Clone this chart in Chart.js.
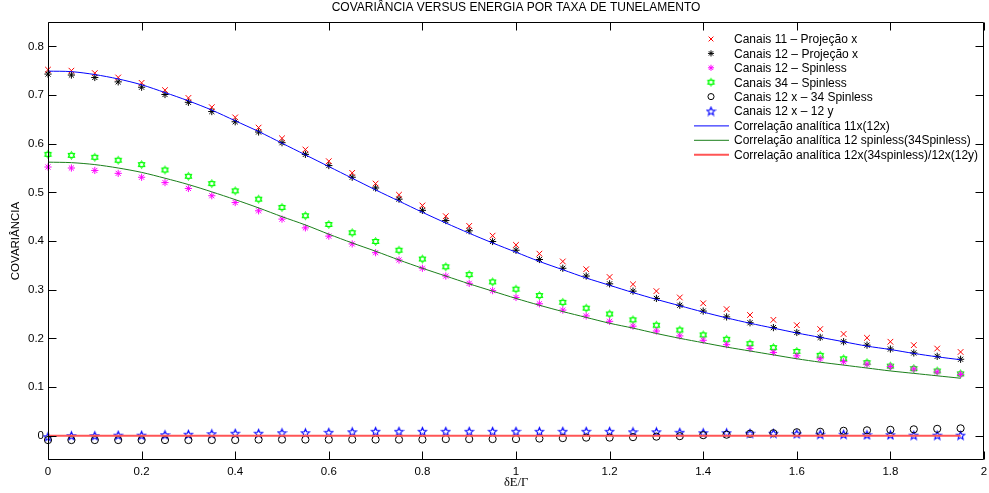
<!DOCTYPE html>
<html>
<head>
<meta charset="utf-8">
<script src="https://cdn.jsdelivr.net/npm/chart.js@4/dist/chart.umd.min.js"></script>
<style>
html, body { margin: 0; padding: 0; background: #fff; }
</style>
</head>
<body>
<canvas id="myChart" width="989" height="493"></canvas>
<script>
const energia = [0, 0.05, 0.1, 0.15, 0.2, 0.25, 0.3, 0.35, 0.4, 0.45,
    0.5, 0.55, 0.6, 0.65, 0.7, 0.75, 0.8, 0.85, 0.9, 0.95,
    1, 1.05, 1.1, 1.15, 1.2, 1.25, 1.3, 1.35, 1.4, 1.45,
    1.5, 1.55, 1.6, 1.65, 1.7, 1.75, 1.8, 1.85, 1.9, 1.95];

const canais11ProjX = [0.752, 0.750, 0.745, 0.736, 0.725, 0.710, 0.694, 0.675, 0.654, 0.633,
    0.611, 0.588, 0.564, 0.540, 0.518, 0.495, 0.473, 0.451, 0.431, 0.411,
    0.392, 0.374, 0.358, 0.342, 0.326, 0.311, 0.297, 0.284, 0.272, 0.260,
    0.248, 0.238, 0.227, 0.219, 0.209, 0.201, 0.193, 0.186, 0.179, 0.172];
const canais12ProjX = [0.743, 0.741, 0.736, 0.727, 0.716, 0.701, 0.685, 0.666, 0.645, 0.624,
    0.602, 0.578, 0.555, 0.531, 0.509, 0.486, 0.463, 0.442, 0.421, 0.399,
    0.381, 0.362, 0.344, 0.328, 0.312, 0.297, 0.282, 0.268, 0.256, 0.244,
    0.232, 0.222, 0.212, 0.202, 0.193, 0.186, 0.178, 0.170, 0.163, 0.157];
const canais12Spinless = [0.552, 0.550, 0.545, 0.539, 0.531, 0.520, 0.508, 0.493, 0.479, 0.462,
    0.445, 0.427, 0.410, 0.394, 0.376, 0.361, 0.344, 0.328, 0.313, 0.298,
    0.284, 0.271, 0.258, 0.246, 0.235, 0.225, 0.215, 0.205, 0.196, 0.187,
    0.179, 0.171, 0.164, 0.158, 0.152, 0.147, 0.142, 0.137, 0.131, 0.126];
const canais34Spinless = [0.578, 0.576, 0.572, 0.566, 0.557, 0.546, 0.533, 0.518, 0.503, 0.486,
    0.469, 0.452, 0.434, 0.417, 0.399, 0.381, 0.363, 0.347, 0.331, 0.316,
    0.301, 0.288, 0.274, 0.262, 0.250, 0.238, 0.227, 0.217, 0.207, 0.198,
    0.189, 0.181, 0.173, 0.165, 0.158, 0.150, 0.143, 0.138, 0.133, 0.127];
const canais12x34Spinless = [-0.009, -0.009, -0.009, -0.009, -0.009, -0.009, -0.009, -0.009, -0.009, -0.008,
    -0.008, -0.008, -0.008, -0.008, -0.008, -0.008, -0.008, -0.007, -0.007, -0.007,
    -0.007, -0.006, -0.005, -0.004, -0.004, -0.003, -0.002, -0.001, 0.001, 0.002,
    0.004, 0.005, 0.007, 0.008, 0.010, 0.011, 0.012, 0.013, 0.014, 0.015];
const canais12x12y = [-0.002, 0.000, 0.000, 0.001, 0.001, 0.002, 0.003, 0.004, 0.005, 0.005,
    0.006, 0.006, 0.007, 0.008, 0.009, 0.009, 0.009, 0.009, 0.009, 0.009,
    0.009, 0.009, 0.009, 0.009, 0.009, 0.008, 0.008, 0.007, 0.006, 0.006,
    0.005, 0.005, 0.004, 0.003, 0.003, 0.002, 0.002, 0.001, 0.001, 0.001];

// curvas analiticas
const analitica11x = [0.749, 0.748, 0.742, 0.733, 0.721, 0.705, 0.688, 0.669, 0.647, 0.625,
    0.601, 0.577, 0.553, 0.529, 0.505, 0.482, 0.459, 0.437, 0.416, 0.396,
    0.377, 0.358, 0.341, 0.324, 0.309, 0.294, 0.280, 0.267, 0.254, 0.242,
    0.231, 0.221, 0.211, 0.202, 0.193, 0.184, 0.177, 0.169, 0.162, 0.156];
const analitica12Spinless = [0.562, 0.561, 0.557, 0.550, 0.541, 0.529, 0.516, 0.501, 0.485, 0.468,
    0.450, 0.433, 0.414, 0.396, 0.379, 0.361, 0.344, 0.328, 0.312, 0.297,
    0.282, 0.268, 0.255, 0.243, 0.231, 0.221, 0.210, 0.200, 0.191, 0.182,
    0.174, 0.166, 0.158, 0.151, 0.145, 0.139, 0.133, 0.128, 0.123, 0.118];
const analiticaZeroX = [0, 1.95];
const analiticaZero = [0, 0];

const xTicks = [0, 0.2, 0.4, 0.6, 0.8, 1, 1.2, 1.4, 1.6, 1.8, 2];
const yTicks = [0, 0.1, 0.2, 0.3, 0.4, 0.5, 0.6, 0.7, 0.8];

const fontSans = '"Liberation Sans", Arial, sans-serif';

function pts(xs, ys) {
    return xs.map((x, i) => ({ x: x, y: ys[i] }));
}

// marcadores especiais (hexagrama e pentagrama)
function makeHexagram(color) {
    const c = document.createElement('canvas');
    c.width = 11; c.height = 11;
    const g = c.getContext('2d');
    g.strokeStyle = color;
    g.lineWidth = 1;
    const r = 4;
    for (let t = 0; t < 2; t++) {
        g.beginPath();
        for (let k = 0; k < 3; k++) {
            const a = -Math.PI / 2 + t * Math.PI + k * 2 * Math.PI / 3;
            const px = 5.5 + r * Math.cos(a), py = 5.5 + r * Math.sin(a);
            if (k == 0) g.moveTo(px, py); else g.lineTo(px, py);
        }
        g.closePath();
        g.stroke();
    }
    return c;
}

function makePentagram(color) {
    const c = document.createElement('canvas');
    c.width = 11; c.height = 11;
    const g = c.getContext('2d');
    g.strokeStyle = color;
    g.lineWidth = 1.1;
    const ro = 4.3, ri = 1.9;
    g.beginPath();
    for (let k = 0; k < 10; k++) {
        const r = k % 2 == 0 ? ro : ri;
        const a = -Math.PI / 2 + k * Math.PI / 5;
        const px = 5.5 + r * Math.cos(a), py = 6 + r * Math.sin(a);
        if (k == 0) g.moveTo(px, py); else g.lineTo(px, py);
    }
    g.closePath();
    g.stroke();
    return c;
}

const hexagram = makeHexagram('#00ff00');
const pentagram = makePentagram('#0000ff');

function markerSet(label, ys, color, style, radius) {
    return {
        label: label,
        data: pts(energia, ys),
        showLine: false,
        pointStyle: style,
        pointRadius: radius,
        pointHoverRadius: radius,
        pointBorderColor: color,
        pointBackgroundColor: 'rgba(0,0,0,0)',
        pointBorderWidth: 1,
        borderColor: color,
        backgroundColor: 'rgba(0,0,0,0)',
        clip: false,
        order: 2
    };
}

function lineSet(label, xs, ys, color, width) {
    return {
        label: label,
        data: pts(xs, ys),
        showLine: true,
        pointRadius: 0,
        borderColor: color,
        borderWidth: width,
        backgroundColor: color,
        tension: 0.3,
        order: 1
    };
}

const datasets = [
    markerSet('Canais 11 – Projeção x', canais11ProjX, '#ff0000', 'crossRot', 4),
    markerSet('Canais 12 – Projeção x', canais12ProjX, '#000000', 'star', 3.6),
    markerSet('Canais 12 – Spinless', canais12Spinless, '#ff00ff', 'star', 3.6),
    markerSet('Canais 34 – Spinless', canais34Spinless, '#00ff00', hexagram, 4),
    markerSet('Canais 12 x – 34 Spinless', canais12x34Spinless, '#000000', 'circle', 3.6),
    markerSet('Canais 12 x – 12 y', canais12x12y, '#0000ff', pentagram, 4),
    lineSet('Correlação analítica 11x(12x)', energia, analitica11x, '#0000ff', 1),
    lineSet('Correlação analítica 12 spinless(34Spinless)', energia, analitica12Spinless, '#1a7f1a', 1),
    lineSet('Correlação analítica 12x(34spinless)/12x(12y)', analiticaZeroX, analiticaZero, '#ff5555', 2)
];

// titulo, caixa, ticks para dentro e legenda estilo matlab
const matlabBox = {
    id: 'matlabBox',
    afterDraw(chart) {
        const ctx = chart.ctx;
        const a = chart.chartArea;
        const xs = chart.scales.x, ys = chart.scales.y;
        const L = Math.round(a.left) + 0.5, R = Math.round(a.right) - 0.5;
        const T = Math.round(a.top) + 0.5, B = Math.round(a.bottom) - 0.5;
        ctx.save();
        ctx.strokeStyle = '#000';
        ctx.lineWidth = 1;
        ctx.beginPath();
        ctx.rect(L, T, R - L, B - T);
        ctx.stroke();
        const tl = 8;
        ctx.beginPath();
        xTicks.forEach(v => {
            const p = Math.round(xs.getPixelForValue(v)) + 0.5;
            ctx.moveTo(p, B); ctx.lineTo(p, B - tl);
            ctx.moveTo(p, T); ctx.lineTo(p, T + tl);
        });
        yTicks.forEach(v => {
            const p = Math.round(ys.getPixelForValue(v)) + 0.5;
            ctx.moveTo(L, p); ctx.lineTo(L + tl, p);
            ctx.moveTo(R, p); ctx.lineTo(R - tl, p);
        });
        ctx.stroke();

        // titulo
        ctx.fillStyle = '#000';
        ctx.font = '12px ' + fontSans;
        ctx.textAlign = 'center';
        ctx.textBaseline = 'middle';
        ctx.fillText('COVARIÂNCIA VERSUS ENERGIA POR TAXA DE TUNELAMENTO', (a.left + a.right) / 2, 8);

        // legenda
        const lx = a.right - 290;
        const mx = lx + 17;
        const tx = lx + 40;
        let ly = a.top + 17;
        ctx.textAlign = 'left';
        chart.data.datasets.forEach(ds => {
            if (ds.showLine) {
                ctx.strokeStyle = ds.borderColor;
                ctx.lineWidth = ds.borderWidth;
                ctx.beginPath();
                ctx.moveTo(lx, ly + 0.5);
                ctx.lineTo(lx + 35, ly + 0.5);
                ctx.stroke();
            } else {
                ctx.strokeStyle = ds.pointBorderColor;
                ctx.fillStyle = 'rgba(0,0,0,0)';
                ctx.lineWidth = 1;
                Chart.helpers.drawPoint(ctx, {
                    pointStyle: ds.pointStyle,
                    radius: ds.pointRadius * 0.85,
                    borderWidth: 1,
                    rotation: 0
                }, mx, ly);
            }
            ctx.fillStyle = '#000';
            ctx.fillText(ds.label, tx, ly + 1);
            ly += 14.4;
        });
        ctx.restore();
    }
};

const myChart = new Chart(document.querySelector('#myChart'), {
    type: 'scatter',
    data: { datasets: datasets },
    options: {
        responsive: false,
        animation: false,
        devicePixelRatio: 1,
        layout: { padding: { top: 22, right: 3, left: 0, bottom: 0 } },
        plugins: {
            legend: { display: false },
            title: { display: false },
            tooltip: { enabled: false }
        },
        scales: {
            x: {
                type: 'linear',
                min: 0,
                max: 2,
                afterBuildTicks: (s) => { s.ticks = xTicks.map(v => ({ value: v })); },
                afterFit: (s) => { s.height = 33; s.paddingLeft = 0; s.paddingRight = 0; },
                grid: { display: false, drawTicks: false },
                border: { display: false },
                ticks: {
                    color: '#000',
                    padding: 5,
                    maxRotation: 0,
                    font: { family: fontSans, size: 11.5 },
                    callback: (v) => String(Math.round(v * 10) / 10)
                },
                title: {
                    display: true,
                    text: 'δE/Γ',
                    color: '#000',
                    font: { family: '"Liberation Serif", "Times New Roman", serif', size: 12.5 },
                    padding: { top: 0, bottom: 2.5 }
                }
            },
            y: {
                type: 'linear',
                min: -0.05,
                max: 0.85,
                afterBuildTicks: (s) => { s.ticks = yTicks.map(v => ({ value: v })); },
                afterFit: (s) => { s.width = 48; s.paddingTop = 0; s.paddingBottom = 0; },
                grid: { display: false, drawTicks: false },
                border: { display: false },
                ticks: {
                    color: '#000',
                    padding: 4,
                    font: { family: fontSans, size: 11.5 },
                    callback: (v) => String(Math.round(v * 10) / 10)
                },
                title: {
                    display: true,
                    text: 'COVARIÂNCIA',
                    color: '#000',
                    font: { family: fontSans, size: 11.5 },
                    padding: { top: 9, bottom: 0 }
                }
            }
        }
    },
    plugins: [matlabBox]
});
</script>
</body>
</html>
